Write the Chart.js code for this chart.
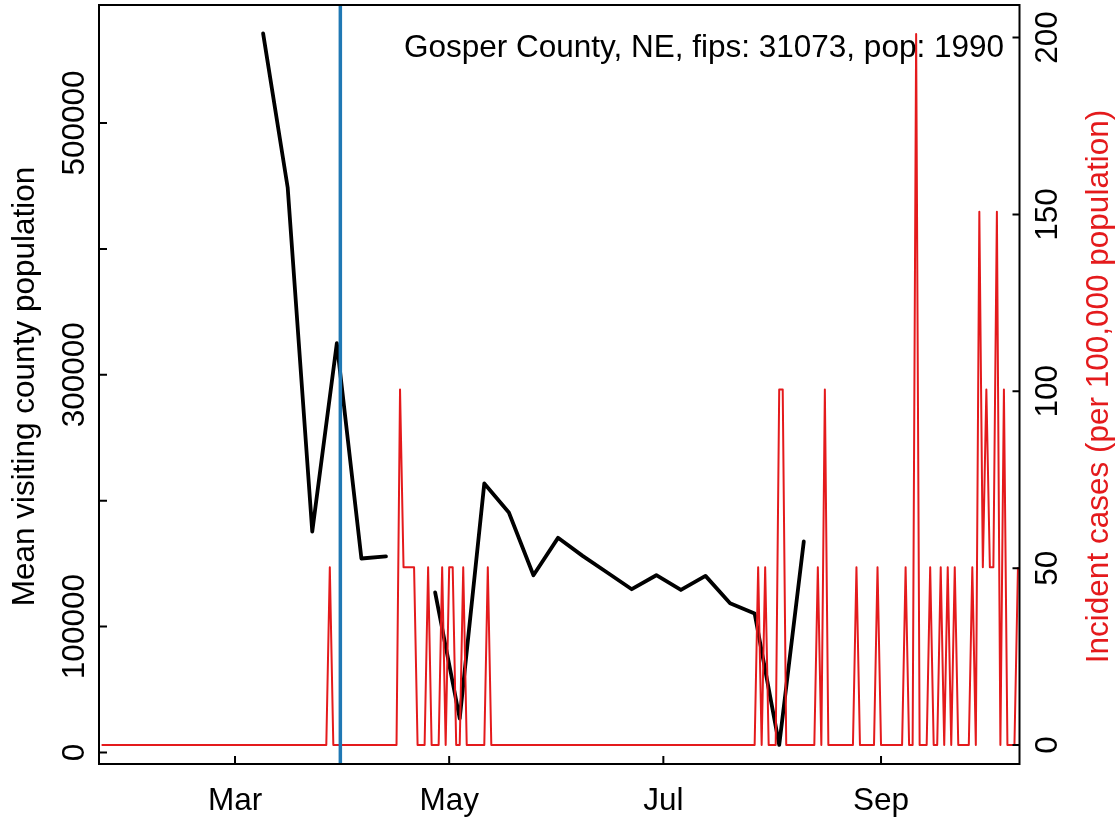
<!DOCTYPE html>
<html>
<head>
<meta charset="utf-8">
<script src="https://cdn.jsdelivr.net/npm/chart.js@4"></script>
<style>
    body { margin: 0; background: #fff; }
    canvas { display: block; }
</style>
</head>
<body>
<canvas id="chart" width="1119" height="822"></canvas>
<script>
// daily incident cases per 100,000 (first value is Jan 23)
const caseStart = "2020-01-23";
const caseValues = [
    0, 0, 0, 0, 0, 0, 0, 0, 0, 0,
    0, 0, 0, 0, 0, 0, 0, 0, 0, 0,
    0, 0, 0, 0, 0, 0, 0, 0, 0, 0,
    0, 0, 0, 0, 0, 0, 0, 0, 0, 0,
    0, 0, 0, 0, 0, 0, 0, 0, 0, 0,
    0, 0, 0, 0, 0, 0, 0, 0, 0, 0,
    0, 0, 0, 0, 0, 50.25, 0, 0, 0, 0,
    0, 0, 0, 0, 0, 0, 0, 0, 0, 0,
    0, 0, 0, 0, 0, 100.5, 50.25, 50.25, 50.25, 50.25,
    0, 0, 0, 50.25, 0, 0, 0, 50.25, 0, 50.25,
    50.25, 0, 0, 50.25, 0, 0, 0, 0, 0, 0,
    50.25, 0, 0, 0, 0, 0, 0, 0, 0, 0,
    0, 0, 0, 0, 0, 0, 0, 0, 0, 0,
    0, 0, 0, 0, 0, 0, 0, 0, 0, 0,
    0, 0, 0, 0, 0, 0, 0, 0, 0, 0,
    0, 0, 0, 0, 0, 0, 0, 0, 0, 0,
    0, 0, 0, 0, 0, 0, 0, 0, 0, 0,
    0, 0, 0, 0, 0, 0, 0, 0, 0, 0,
    0, 0, 0, 0, 0, 0, 0, 50.25, 0, 50.25,
    0, 0, 0, 100.5, 100.5, 0, 0, 0, 0, 0,
    0, 0, 0, 0, 50.25, 0, 100.5, 0, 0, 0,
    0, 0, 0, 0, 0, 50.25, 0, 0, 0, 0,
    0, 50.25, 0, 0, 0, 0, 0, 0, 0, 50.25,
    0, 0, 201, 0, 0, 0, 50.25, 0, 0, 50.25,
    0, 50.25, 0, 50.25, 0, 0, 0, 0, 50.25, 0,
    150.75, 50.25, 100.5, 50.25, 50.25, 150.75, 0, 100.5, 0, 0,
    0, 50.25
];

// weekly mean visiting county population (null = missing week)
const visitWeeks = [
    "2020-03-09", "2020-03-16", "2020-03-23", "2020-03-30",
    "2020-04-06", "2020-04-13", "2020-04-20", "2020-04-27",
    "2020-05-04", "2020-05-11", "2020-05-18", "2020-05-25",
    "2020-06-01", "2020-06-08", "2020-06-15", "2020-06-22",
    "2020-06-29", "2020-07-06", "2020-07-13", "2020-07-20",
    "2020-07-27", "2020-08-03", "2020-08-10"
];
const visitValues = [
    571200, 448800, 175500, 325100,
    154100, 155700, null, 127100,
    27000, 213700, 190600, 140800,
    170500, 156200, 143000, 129700,
    140800, 129100, 140300, 118600,
    110400, 6000, 167600
];

const markerDate = "2020-03-31";

const monthTicks = ["2020-03-01", "2020-05-01", "2020-07-01", "2020-09-01"];
const monthLabels = ["Mar", "May", "Jul", "Sep"];

const leftTicks = [0, 100000, 200000, 300000, 400000, 500000];
const leftLabels = ["0", "100000", "", "300000", "", "500000"];

const rightTicks = [0, 50, 100, 150, 200];
const rightLabels = ["0", "50", "100", "150", "200"];

const headline = "Gosper County, NE, fips: 31073, pop: 1990";
const leftTitle = "Mean visiting county population";
const rightTitle = "Incident cases (per 100,000 population)";

const RED = "#e41a1c";
const BLUE = "#1f78b4";
const FONT = "31.5px 'Liberation Sans', Arial, sans-serif";

function toDay(s) {
    const p = s.split("-").map(Number);
    return (Date.UTC(p[0], p[1] - 1, p[2]) - Date.UTC(2020, 0, 1)) / 86400000;
}

function upText(c, s, x, y) {
    c.save();
    c.translate(x, y);
    c.rotate(-Math.PI / 2);
    c.textAlign = "center";
    c.textBaseline = "alphabetic";
    c.fillText(s, 0, 0);
    c.restore();
}

// base-R style box, inward ticks, rotated labels, marker line
const rAxes = {
    id: "rAxes",
    afterDatasetsDraw(chart) {
        const c = chart.ctx;
        const a = chart.chartArea;
        const x = chart.scales.x;
        const yL = chart.scales.yL;
        const yR = chart.scales.yR;

        c.save();

        const bx = x.getPixelForValue(toDay(markerDate));
        c.strokeStyle = BLUE;
        c.lineWidth = 3.5;
        c.beginPath();
        c.moveTo(bx, a.top);
        c.lineTo(bx, a.bottom);
        c.stroke();

        c.strokeStyle = "#000";
        c.lineWidth = 2;
        c.strokeRect(a.left, a.top, a.right - a.left, a.bottom - a.top);

        c.font = FONT;
        c.fillStyle = "#000";

        c.beginPath();
        leftTicks.forEach(function (v) {
            const py = yL.getPixelForValue(v);
            c.moveTo(a.left, py);
            c.lineTo(a.left + 8, py);
        });
        rightTicks.forEach(function (v) {
            const py = yR.getPixelForValue(v);
            c.moveTo(a.right, py);
            c.lineTo(a.right - 7, py);
        });
        monthTicks.forEach(function (d) {
            const px = x.getPixelForValue(toDay(d));
            c.moveTo(px, a.bottom);
            c.lineTo(px, a.bottom - 8);
        });
        c.stroke();

        leftTicks.forEach(function (v, i) {
            if (leftLabels[i]) upText(c, leftLabels[i], 84, yL.getPixelForValue(v));
        });
        rightTicks.forEach(function (v, i) {
            upText(c, rightLabels[i], 1057, yR.getPixelForValue(v));
        });

        c.textAlign = "center";
        c.textBaseline = "alphabetic";
        monthTicks.forEach(function (d, i) {
            c.fillText(monthLabels[i], x.getPixelForValue(toDay(d)), 810);
        });

        const midY = (a.top + a.bottom) / 2 + 2;
        upText(c, leftTitle, 33.5, midY);
        c.fillStyle = RED;
        upText(c, rightTitle, 1107.5, midY);

        c.fillStyle = "#000";
        c.textAlign = "right";
        c.fillText(headline, 1004, 57);

        c.restore();
    }
};

window.onload = function () {

    const start = toDay(caseStart);

    const casePoints = caseValues.map(function (v, i) {
        return { x: start + i, y: v };
    });

    const visitPoints = visitWeeks.map(function (d, i) {
        return { x: toDay(d), y: visitValues[i] };
    });

    new Chart(document.getElementById("chart"), {

        type: "line",

        data: {
            datasets: [
                {
                    label: "Incident cases",
                    data: casePoints,
                    yAxisID: "yR",
                    borderColor: RED,
                    borderWidth: 2,
                    pointRadius: 0,
                    tension: 0,
                    borderJoinStyle: "round",
                    order: 1
                },
                {
                    label: "Mean visiting county population",
                    data: visitPoints,
                    yAxisID: "yL",
                    borderColor: "#000",
                    borderWidth: 3.8,
                    pointRadius: 0,
                    tension: 0,
                    spanGaps: false,
                    borderCapStyle: "round",
                    borderJoinStyle: "round",
                    order: 2
                }
            ]
        },

        options: {
            responsive: false,
            animation: false,
            devicePixelRatio: 1,
            layout: {
                padding: { left: 99, right: 99.5, top: 5, bottom: 58 }
            },
            scales: {
                x: { type: "linear", display: false, min: 21.26, max: 283.44 },
                yL: { type: "linear", position: "left", display: false, min: -9134, max: 593725 },
                yR: { type: "linear", position: "right", display: false, min: -5.37, max: 209.2 }
            },
            plugins: {
                legend: { display: false },
                tooltip: { enabled: false }
            }
        },

        plugins: [rAxes]
    });
};
</script>
</body>
</html>
